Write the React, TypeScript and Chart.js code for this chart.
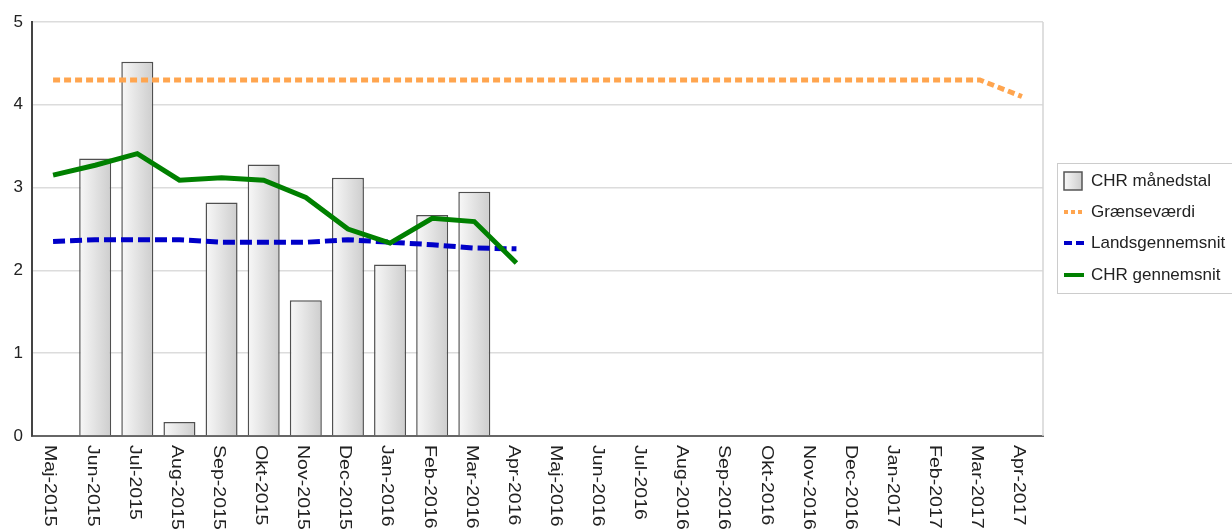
import React, { useEffect, useRef } from "react";
import { Chart, registerables } from "chart.js";

Chart.register(...registerables);

const categories = [
  "Maj-2015", "Jun-2015", "Jul-2015", "Aug-2015", "Sep-2015", "Okt-2015",
  "Nov-2015", "Dec-2015", "Jan-2016", "Feb-2016", "Mar-2016", "Apr-2016",
  "Maj-2016", "Jun-2016", "Jul-2016", "Aug-2016", "Sep-2016", "Okt-2016",
  "Nov-2016", "Dec-2016", "Jan-2017", "Feb-2017", "Mar-2017", "Apr-2017",
];

const monthlyValues = [
  null, 3.35, 4.52, 0.17, 2.82, 3.28, 1.64, 3.12, 2.07, 2.67, 2.95, null,
  null, null, null, null, null, null, null, null, null, null, null, null,
];

const limitValues = [
  4.3, 4.3, 4.3, 4.3, 4.3, 4.3, 4.3, 4.3, 4.3, 4.3, 4.3, 4.3,
  4.3, 4.3, 4.3, 4.3, 4.3, 4.3, 4.3, 4.3, 4.3, 4.3, 4.3, 4.1,
];

const nationalAverage = [
  2.35, 2.37, 2.37, 2.37, 2.34, 2.34, 2.34, 2.37, 2.34, 2.31, 2.27, 2.26,
  null, null, null, null, null, null, null, null, null, null, null, null,
];

const chrAverage = [
  3.15, 3.27, 3.41, 3.09, 3.12, 3.09, 2.88, 2.50, 2.33, 2.63, 2.59, 2.09,
  null, null, null, null, null, null, null, null, null, null, null, null,
];

const yTickValues = [0, 1, 2, 3, 4, 5];

const seriesNames = ["CHR månedstal", "Grænseværdi", "Landsgennemsnit", "CHR gennemsnit"];

const FONT = '"Liberation Sans", Arial, sans-serif';
const ORANGE = "#ffa54f";
const BLUE = "#0000c8";
const GREEN = "#008000";

function barGradient(ctx: CanvasRenderingContext2D, x0: number, x1: number) {
  const g = ctx.createLinearGradient(x0, 0, x1, 0);
  g.addColorStop(0, "#f8f8f8");
  g.addColorStop(1, "#cdcdcd");
  return g;
}

const decorPlugin = {
  id: "decor",
  beforeDatasetsDraw(chart: any) {
    const { ctx, chartArea } = chart;
    ctx.save();
    ctx.strokeStyle = "#d4d4d4";
    ctx.lineWidth = 1.5;
    ctx.beginPath();
    ctx.moveTo(chartArea.right, chartArea.top);
    ctx.lineTo(chartArea.right, chartArea.bottom);
    ctx.stroke();
    ctx.restore();
  },
  afterDraw(chart: any) {
    const { ctx } = chart;
    const xs = chart.scales.x;
    ctx.save();
    ctx.font = "17px " + FONT;
    ctx.fillStyle = "#222";
    ctx.textAlign = "left";
    ctx.textBaseline = "middle";
    categories.forEach((lab, i) => {
      const x = xs.getPixelForValue(i) - 3;
      ctx.save();
      ctx.translate(x, 445);
      ctx.rotate(Math.PI / 2);
      ctx.scale(1.15, 1);
      ctx.fillText(lab, 0, 0);
      ctx.restore();
    });

    // legend
    ctx.strokeStyle = "#cccccc";
    ctx.lineWidth = 1;
    ctx.strokeRect(1057.5, 163.5, 185, 130);
    ctx.fillStyle = barGradient(ctx, 1064, 1082);
    ctx.fillRect(1064, 172, 18, 18);
    ctx.strokeStyle = "#555";
    ctx.lineWidth = 1.5;
    ctx.strokeRect(1064, 172, 18, 18);

    const lineY = [212, 243, 275];
    const styles = [
      { c: ORANGE, d: [4, 3] },
      { c: BLUE, d: [8, 4] },
      { c: GREEN, d: [] as number[] },
    ];
    styles.forEach((s, k) => {
      ctx.beginPath();
      ctx.strokeStyle = s.c;
      ctx.lineWidth = 4;
      ctx.setLineDash(s.d);
      ctx.moveTo(1064, lineY[k]);
      ctx.lineTo(1084, lineY[k]);
      ctx.stroke();
    });
    ctx.setLineDash([]);
    ctx.fillStyle = "#222";
    ctx.font = "17px " + FONT;
    ctx.textAlign = "left";
    ctx.textBaseline = "middle";
    const textY = [181, 212, 243, 275];
    seriesNames.forEach((n, k) => ctx.fillText(n, 1091, textY[k]));
    ctx.restore();
  },
};

export default function App() {
  const ref = useRef<HTMLCanvasElement>(null);
  useEffect(() => {
    const canvas = ref.current!;
    const chart = new Chart(canvas, {
      type: "bar",
      data: {
        labels: categories,
        datasets: [
          {
            type: "bar",
            label: seriesNames[0],
            data: monthlyValues as any,
            order: 3,
            backgroundColor: (c: any) => {
              const ch = c.chart;
              if (!ch.chartArea || c.dataIndex === undefined) return "#e0e0e0";
              const xs = ch.scales.x;
              const cx = xs.getPixelForValue(c.dataIndex);
              return barGradient(ch.ctx, cx - 16, cx + 16);
            },
            borderColor: "#505050",
            borderWidth: 1.5,
            barPercentage: 0.76,
            categoryPercentage: 1,
          },
          {
            type: "line",
            label: seriesNames[1],
            data: limitValues,
            order: 2,
            borderColor: ORANGE,
            borderWidth: 5,
            borderDash: [7, 4],
            pointRadius: 0,
            fill: false,
            tension: 0,
          },
          {
            type: "line",
            label: seriesNames[2],
            data: nationalAverage as any,
            order: 1,
            borderColor: BLUE,
            borderWidth: 5,
            borderDash: [12, 5],
            pointRadius: 0,
            fill: false,
            tension: 0,
          },
          {
            type: "line",
            label: seriesNames[3],
            data: chrAverage as any,
            order: 0,
            borderColor: GREEN,
            borderWidth: 5,
            pointRadius: 0,
            fill: false,
            tension: 0,
          },
        ] as any,
      },
      options: {
        animation: false,
        responsive: false,
        devicePixelRatio: 1,
        layout: { padding: { left: 0, top: 22, right: 189, bottom: 0 } },
        plugins: { legend: { display: false }, tooltip: { enabled: false } },
        scales: {
          x: {
            offset: true,
            grid: { display: false },
            border: { color: "#666", width: 2 },
            ticks: { display: false },
            afterFit: (s: any) => { s.height = 93; },
          },
          y: {
            min: 0,
            max: 5,
            afterBuildTicks: (s: any) => { s.ticks = yTickValues.map((v) => ({ value: v })); },
            grid: { color: "#dcdcdc", lineWidth: 1.5, drawTicks: false },
            border: { color: "#444", width: 2 },
            ticks: { padding: 9, color: "#222", font: { family: FONT, size: 17 } },
            afterFit: (s: any) => { s.width = 32; },
          },
        },
      } as any,
      plugins: [decorPlugin],
    });
    return () => chart.destroy();
  }, []);
  return (
    <div style={{ position: "absolute", left: 0, top: 0, width: 1232, height: 529, background: "#fff" }}>
      <canvas ref={ref} width={1232} height={529} style={{ width: 1232, height: 529 }} />
    </div>
  );
}
